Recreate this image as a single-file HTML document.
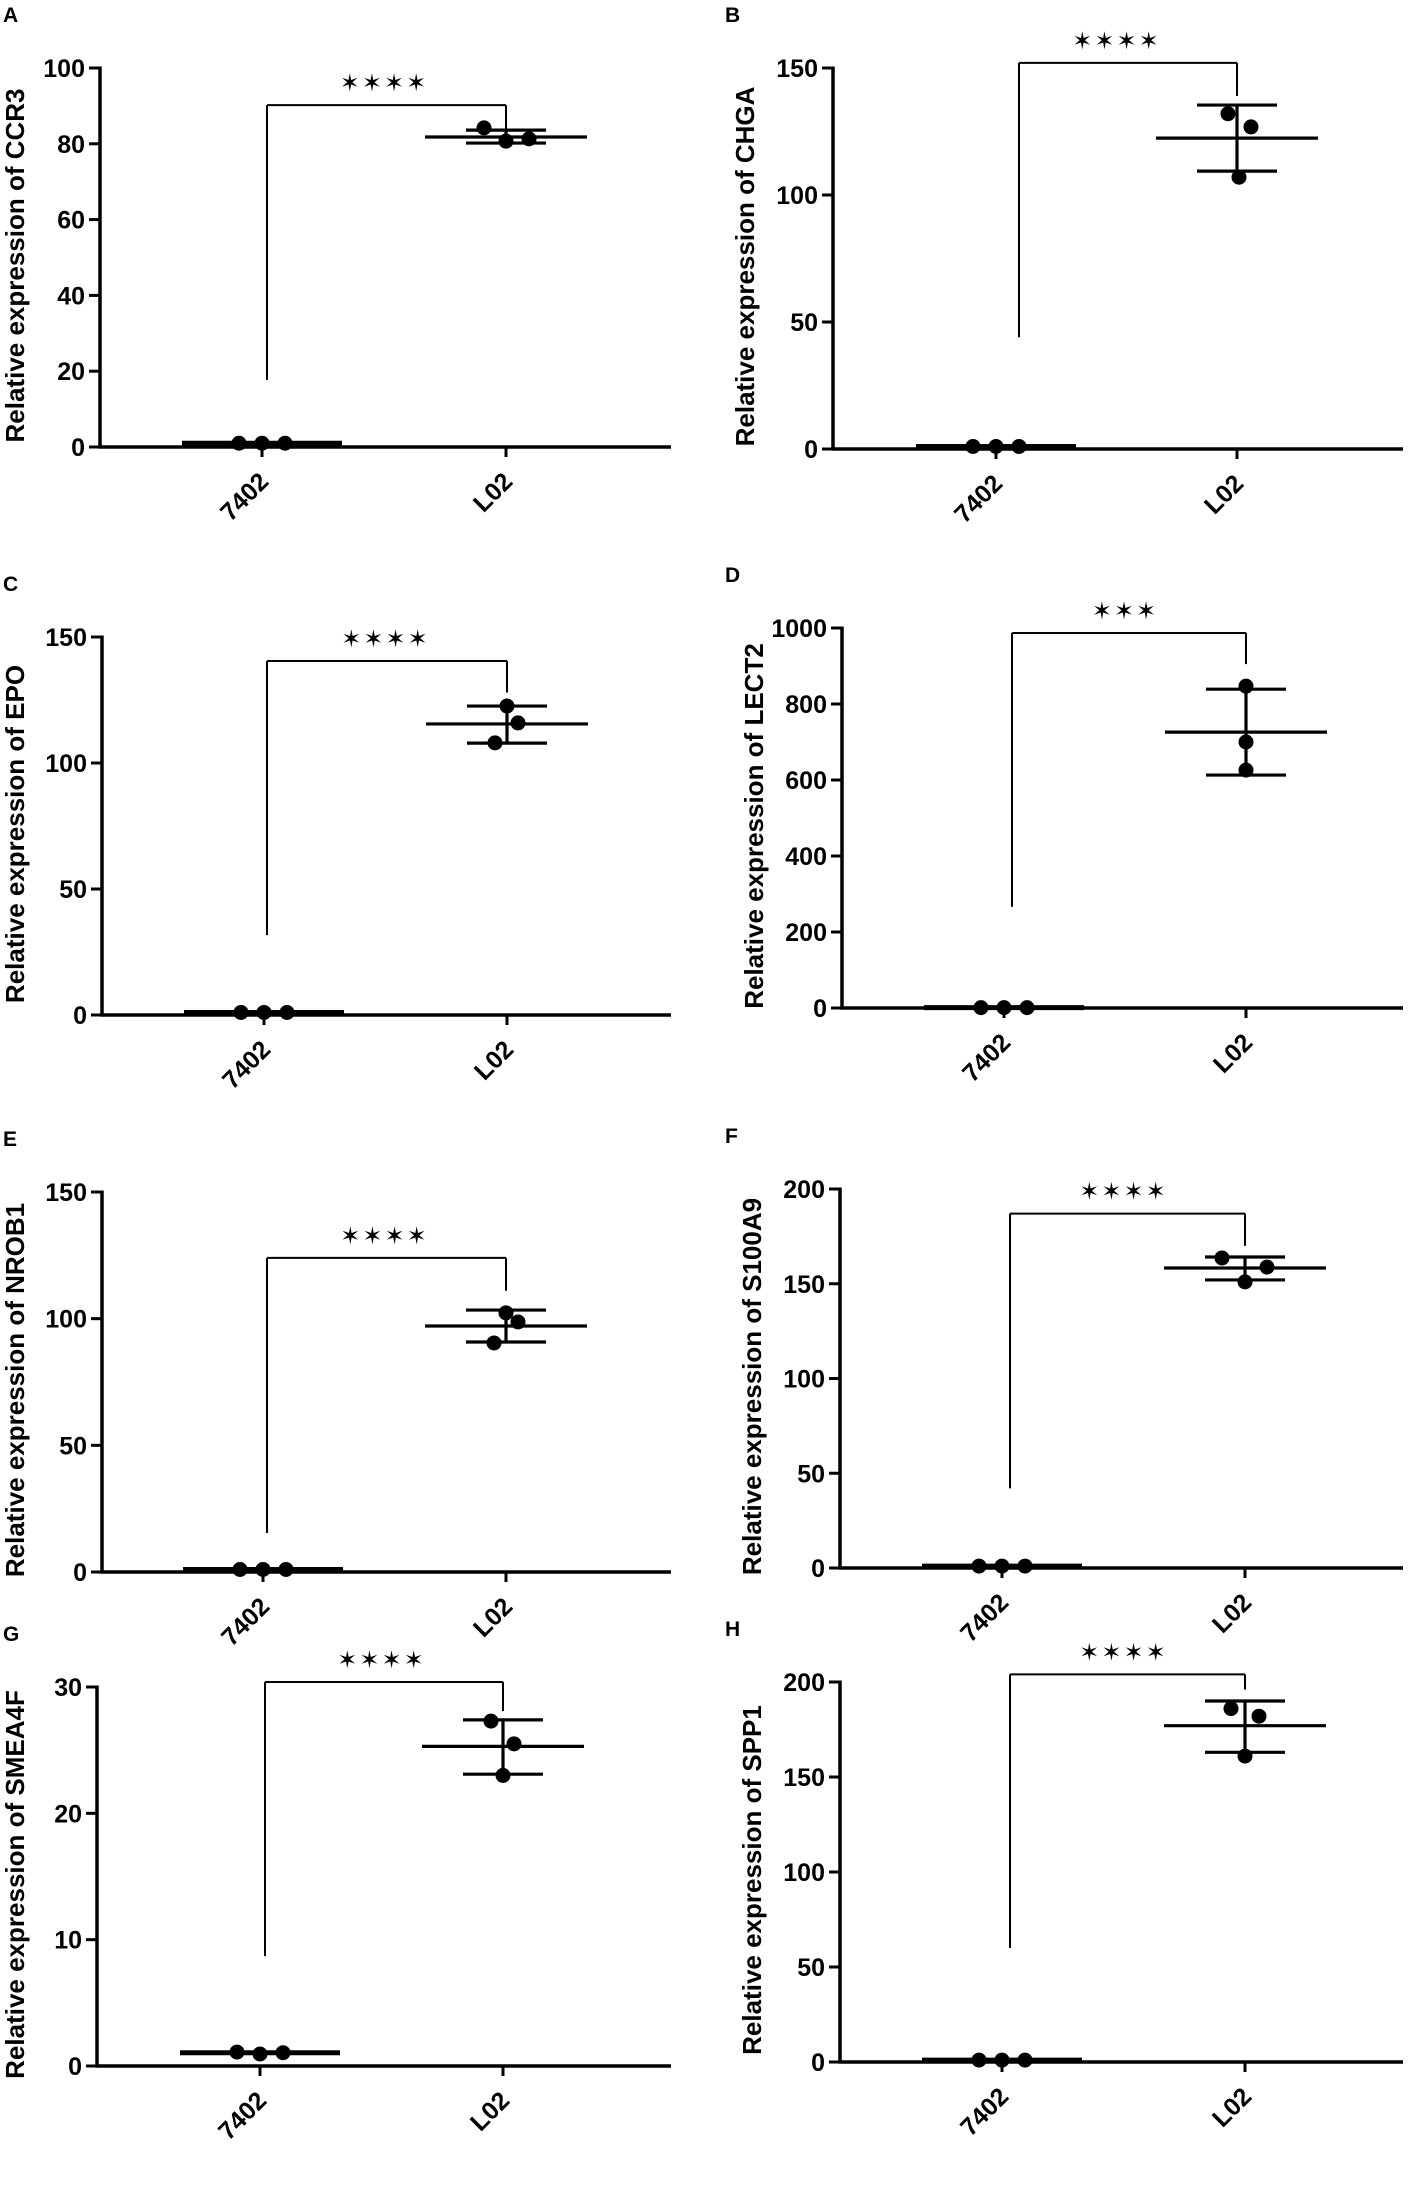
<!DOCTYPE html>
<html><head><meta charset="utf-8"><style>
html,body{margin:0;padding:0;background:#fff;}
svg{display:block;font-family:"Liberation Sans",Arial,sans-serif;}
</style></head><body>
<svg id="fig" width="1412" height="2198" viewBox="0 0 1412 2198"></svg>
<script>
const panelLetters=["A","B","C","D","E","F","G","H"];
const genes=["CCR3","CHGA","EPO","LECT2","NROB1","S100A9","SMEA4F","SPP1"];
const categories=["7402","L02"];
const yMaxes=[100,150,150,1000,150,200,30,200];
const yTickLists=[[0,20,40,60,80,100],[0,50,100,150],[0,50,100,150],[0,200,400,600,800,1000],[0,50,100,150],[0,50,100,150,200],[0,10,20,30],[0,50,100,150,200]];
const ctrlValues=[[1,1,1],[1,1,1],[1,1,1],[1,1,1],[1,1,1],[1,1,1],[1.1,0.95,1.05],[1,1,1]];
const ctrlMean=[1,1,1,1,1,1,1.05,1];
const l02Values=[[84.2,80.7,81.3],[132,126.8,107],[122.6,115.9,108],[847,700,626],[102.3,98.7,90.4],[163.6,158.8,151],[27.3,25.5,23.0],[186,182,161]];
const l02Mean=[81.8,122.4,115.5,726,97.1,158.3,25.3,177];
const l02Err=[[80.2,83.6],[109.4,135.4],[107.9,122.6],[613,839],[90.8,103.4],[152,164.1],[23.1,27.4],[163,190]];
const sigLabels=["****","****","****","***","****","****","****","****"];
const bracketVals=[90.2,152,140.5,987,124,187,30.4,204];
const bracketLow=[17.7,44,31.7,266,15.4,42,8.7,60];
const bracketRightLow=[84,139,128,905,111,170,28.1,196];

// layout (pixel geometry, not data)
const layout=[
 {ax:100,y0:447,yt:68,xe:671,c:[262,506],bl:267,j:[-22,0,23]},
 {ax:833,y0:449,yt:68,xe:1403,c:[996,1237],bl:1019,j:[-9,14,2]},
 {ax:102,y0:1015,yt:637,xe:671,c:[264,507],bl:267,j:[0,11,-12]},
 {ax:842,y0:1008,yt:628,xe:1403,c:[1004,1246],bl:1012,j:[0,0,0]},
 {ax:102,y0:1572,yt:1192,xe:671,c:[263,506],bl:267,j:[0,12,-12]},
 {ax:840,y0:1568,yt:1189,xe:1403,c:[1002,1245],bl:1010,j:[-23,22,0]},
 {ax:97,y0:2066,yt:1687,xe:671,c:[260,503],bl:265,j:[-12,11,0]},
 {ax:840,y0:2062,yt:1682,xe:1403,c:[1002,1245],bl:1010,j:[-14,14,0]}
];
const NS="http://www.w3.org/2000/svg";
const svg=document.getElementById('fig');
function mk(tag,attrs,parent,text){const e=document.createElementNS(NS,tag);for(const k in attrs)e.setAttribute(k,attrs[k]);if(text!==undefined)e.textContent=text;(parent||svg).appendChild(e);return e;}
function line(g,x1,y1,x2,y2,w,name){const l=mk('line',{x1,y1,x2,y2,stroke:'#000','stroke-width':w},g);


return l;}

for(let p=0;p<8;p++){
 const L=layout[p];
 const g=mk('g',{});
 
 
 const y=v=>L.y0-(v/yMaxes[p])*(L.y0-L.yt);
 const left=L.ax<400;
 const lx=left?3:725;
 const letter=mk('text',{x:lx,y:L.yt-46,'font-size':21,'font-weight':'bold'},g,panelLetters[p]);
 
 
 const tx=left?24:L.ax-79;
 const midTitle=(L.y0+L.yt)/2+8;
 const t=mk('text',{x:tx,y:midTitle,'font-size':26,'font-weight':'bold','text-anchor':'middle',transform:`rotate(-90 ${tx} ${midTitle})`},g,'Relative expression of '+genes[p]);
 
 
 line(g,L.ax,L.yt-1.5,L.ax,L.y0+1.5,3.5,'y-axis');
 line(g,L.ax-1.5,L.y0,L.xe,L.y0,3.5,'x-axis');
 for(const tv of yTickLists[p]){
  line(g,L.ax-11,y(tv),L.ax,y(tv),3,'y-tick');
  const tl=mk('text',{x:L.ax-15,y:y(tv)+9,'font-size':25,'font-weight':'bold','text-anchor':'end'},g,String(tv));
  
  
 }
 for(let c=0;c<2;c++){
  const cx=L.c[c];
  line(g,cx,L.y0,cx,L.y0+10,3,'x-tick');
  const xl=mk('text',{x:cx+8,y:L.y0+36,'font-size':25,'font-weight':'bold','text-anchor':'end',transform:`rotate(-45 ${cx+8} ${L.y0+36})`},g,categories[c]);
  
  
 }
 // control group
 line(g,L.c[0]-80,y(ctrlMean[p]),L.c[0]+80,y(ctrlMean[p]),5,'mean-line-7402');
 ctrlValues[p].forEach((v,i)=>{const d=mk('circle',{cx:L.c[0]-23+23*i,cy:y(v),r:7.5,fill:'#000'},g);
  
  });
 // L02 group
 const c2=L.c[1];
 line(g,c2-81,y(l02Mean[p]),c2+81,y(l02Mean[p]),3.2,'mean-line-l02');
 line(g,c2,y(l02Err[p][0]),c2,y(l02Err[p][1]),3.2,'error-bar-l02');
 line(g,c2-40,y(l02Err[p][0]),c2+40,y(l02Err[p][0]),3.2,'error-cap-low');
 line(g,c2-40,y(l02Err[p][1]),c2+40,y(l02Err[p][1]),3.2,'error-cap-high');
 l02Values[p].forEach((v,i)=>{const d=mk('circle',{cx:c2+L.j[i],cy:y(v),r:7.5,fill:'#000'},g);
  
  });
 // significance bracket
 const by=y(bracketVals[p]);
 line(g,L.bl,y(bracketLow[p]),L.bl,by,2,'significance-bracket-left');
 line(g,L.bl,by,c2,by,2,'significance-bracket-top');
 line(g,c2,by,c2,y(bracketRightLow[p]),2,'significance-bracket-right');
 const st=mk('text',{x:(L.c[0]+c2)/2,y:by-14,'font-size':24,'text-anchor':'middle','letter-spacing':'2','font-family':'"DejaVu Sans",sans-serif'},g,sigLabels[p].replace(/\*/g,'✶'));
 
 
}
</script>
</body></html>
